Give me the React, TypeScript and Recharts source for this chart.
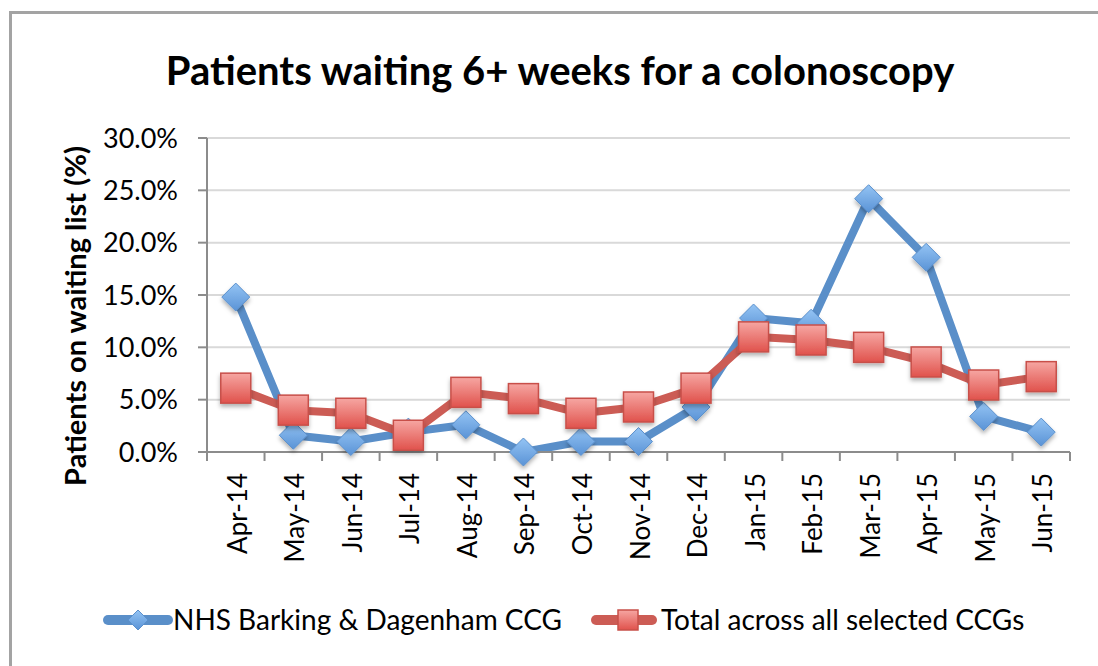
import React from "react";
import { LineChart, Line, XAxis, YAxis, CartesianGrid } from "recharts";

const months = [
  "Apr-14", "May-14", "Jun-14", "Jul-14", "Aug-14", "Sep-14", "Oct-14", "Nov-14",
  "Dec-14", "Jan-15", "Feb-15", "Mar-15", "Apr-15", "May-15", "Jun-15",
];
// % of patients waiting 6+ weeks
const barkingPct = [14.8, 1.6, 1.0, 1.9, 2.6, 0.0, 1.0, 1.0, 4.3, 12.8, 12.3, 24.2, 18.6, 3.4, 1.9];
const totalPct = [6.1, 4.0, 3.7, 1.6, 5.7, 5.1, 3.7, 4.3, 6.1, 11.0, 10.7, 10.0, 8.6, 6.4, 7.2];
const yTicks = [0, 5, 10, 15, 20, 25, 30];

const seriesNames = ["NHS Barking & Dagenham CCG", "Total across all selected CCGs"];

const data = months.map((m, i) => ({ month: m, barking: barkingPct[i], total: totalPct[i] }));

const W = 1098;
const H = 666;
const margin = { top: 138, right: 28, bottom: 94, left: 87 };
const Y_AXIS_W = 120;
const X_AXIS_H = 120;
const plotW = W - margin.left - margin.right - Y_AXIS_W;
const halfBand = plotW / months.length / 2;

const FONT = "Lato, 'Open Sans', sans-serif";
const BLUE = "#5a8fc9";
const RED = "#cc5c55";
const AXIS = "#8c8c8c";

function Diamond({ cx, cy, size = 14, shadow = true }: any) {
  if (cx == null || cy == null) return null;
  const pts = `${cx},${cy - size} ${cx + size},${cy} ${cx},${cy + size} ${cx - size},${cy}`;
  return (
    <polygon
      points={pts}
      fill="url(#blueGrad)"
      stroke="#5b90cc"
      strokeWidth={1}
      filter={shadow ? "url(#mshadow)" : undefined}
    />
  );
}

function Square({ cx, cy, size = 15, shadow = true }: any) {
  if (cx == null || cy == null) return null;
  return (
    <rect
      x={cx - size}
      y={cy - size}
      width={size * 2}
      height={size * 2}
      fill="url(#redGrad)"
      stroke="#c8504a"
      strokeWidth={1.5}
      filter={shadow ? "url(#mshadow)" : undefined}
    />
  );
}

function MonthTick({ x, y, payload, index }: any) {
  const last = index === months.length - 1;
  return (
    <g>
      <line x1={x - halfBand} x2={x - halfBand} y1={y} y2={y + 9} stroke={AXIS} strokeWidth={2} />
      {last && <line x1={x + halfBand} x2={x + halfBand} y1={y} y2={y + 9} stroke={AXIS} strokeWidth={2} />}
      <text
        x={x + 11}
        y={y + 21}
        transform={`rotate(-90 ${x + 11} ${y + 21})`}
        textAnchor="end"
        fontSize={26}
        fontFamily={FONT}
        fill="#000"
      >
        {payload.value}
      </text>
    </g>
  );
}

function YTitle() {
  return (
    <text
      x={86}
      y={316}
      transform="rotate(-90 86 316)"
      textAnchor="middle"
      fontSize={29}
      fontWeight="bold"
      fontFamily={FONT}
      fill="#000"
    >
      Patients on waiting list (%)
    </text>
  );
}

function LegendRow() {
  return (
    <svg width={W} height={50} style={{ position: "absolute", left: 0, top: 596 }}>
      <line x1={108} x2={168} y1={24} y2={24} stroke={BLUE} strokeWidth={10} strokeLinecap="round" />
      <Diamond cx={138} cy={24} size={10} shadow={false} />
      <text x={173} y={34} fontSize={28} fontFamily={FONT} fill="#000">
        {seriesNames[0]}
      </text>
      <line x1={596} x2={652} y1={24} y2={24} stroke={RED} strokeWidth={10} strokeLinecap="round" />
      <Square cx={628} cy={24} size={10} shadow={false} />
      <text x={661} y={34} fontSize={28} fontFamily={FONT} fill="#000">
        {seriesNames[1]}
      </text>
    </svg>
  );
}

export default function App() {
  return (
    <div
      style={{
        position: "fixed",
        left: 0,
        top: 0,
        width: W,
        height: H,
        overflow: "hidden",
        background: "#fff",
        fontFamily: FONT,
      }}
    >
      <svg width={0} height={0} style={{ position: "absolute" }}>
        <defs>
          <linearGradient id="blueGrad" x1="0" y1="0" x2="0" y2="1">
            <stop offset="0%" stopColor="#94c4f4" />
            <stop offset="100%" stopColor="#5a93d6" />
          </linearGradient>
          <linearGradient id="redGrad" x1="0" y1="0" x2="0" y2="1">
            <stop offset="0%" stopColor="#f6a6a2" />
            <stop offset="100%" stopColor="#e0524c" />
          </linearGradient>
          <filter id="mshadow" x="-50%" y="-50%" width="200%" height="200%">
            <feDropShadow dx="0" dy="3" stdDeviation="2" floodColor="#000" floodOpacity="0.3" />
          </filter>
        </defs>
      </svg>

      {/* chart frame, runs off the right and bottom of the picture */}
      <div
        style={{
          position: "absolute",
          left: 9,
          top: 11,
          width: 1200,
          height: 800,
          border: "3px solid #a3a3a3",
        }}
      />

      <div
        style={{
          position: "absolute",
          left: 0,
          top: 50,
          width: 1120,
          textAlign: "center",
          fontSize: 40,
          lineHeight: "40px",
          fontWeight: "bold",
          color: "#000",
        }}
      >
        Patients waiting 6+ weeks for a colonoscopy
      </div>

      <div style={{ position: "absolute", left: 0, top: 0 }}>
        <LineChart width={W} height={H} data={data} margin={margin}>
          <CartesianGrid stroke="#d9d9d9" strokeWidth={2} vertical={false} />
          <XAxis
            dataKey="month"
            interval={0}
            height={X_AXIS_H}
            padding={{ left: halfBand, right: halfBand }}
            axisLine={{ stroke: AXIS, strokeWidth: 2 }}
            tickLine={false}
            tickSize={0}
            tickMargin={0}
            tick={<MonthTick />}
          />
          <YAxis
            width={Y_AXIS_W}
            domain={[0, 30]}
            ticks={yTicks}
            interval={0}
            tickFormatter={(v: number) => v.toFixed(1) + "%"}
            axisLine={{ stroke: AXIS, strokeWidth: 2 }}
            tickLine={{ stroke: AXIS, strokeWidth: 2 }}
            tickSize={9}
            tickMargin={20}
            tick={{ fontSize: 27, fontFamily: FONT, fill: "#000" }}
            label={<YTitle />}
          />
          <Line
            dataKey="barking"
            name={seriesNames[0]}
            stroke={BLUE}
            strokeWidth={8}
            strokeLinejoin="round"
            dot={(p: any) => <Diamond key={`b${p.index}`} cx={p.cx} cy={p.cy} />}
            activeDot={false}
            isAnimationActive={false}
          />
          <Line
            dataKey="total"
            name={seriesNames[1]}
            stroke={RED}
            strokeWidth={8}
            strokeLinejoin="round"
            dot={(p: any) => <Square key={`t${p.index}`} cx={p.cx} cy={p.cy} />}
            activeDot={false}
            isAnimationActive={false}
          />
        </LineChart>
      </div>

      <LegendRow />
    </div>
  );
}
